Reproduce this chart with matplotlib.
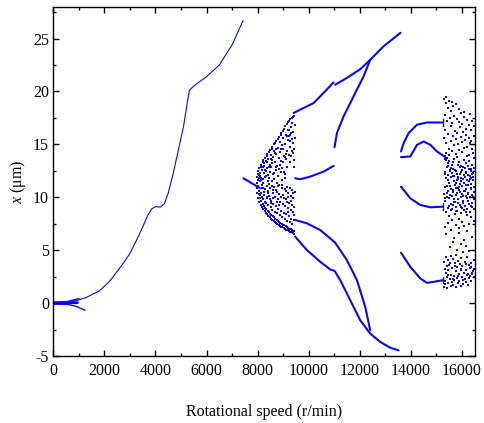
import numpy as np
import matplotlib
matplotlib.use('Agg')
from matplotlib import pyplot as plt
from matplotlib.ticker import MultipleLocator

# ---- branches: (speed r/min, x um) ----
main_branch = [(0, 0.0), (300, 0.02), (600, 0.06), (850, 0.2), (1050, 0.36),
               (1300, 0.55), (1500, 0.8), (1800, 1.15), (2000, 1.6), (2250, 2.2),
               (2500, 3.0), (2750, 3.8), (3000, 4.7), (3250, 5.9), (3500, 7.2),
               (3700, 8.3), (3850, 8.9), (4000, 9.12), (4200, 9.08), (4350, 9.4),
               (4500, 10.4), (4700, 12.3), (4900, 14.5), (5100, 16.7), (5250, 19.0),
               (5330, 20.1), (5450, 20.4), (5600, 20.7), (6000, 21.4), (6500, 22.5),
               (7000, 24.4), (7430, 26.7)]
start_band_up = [(0, 0.1), (300, 0.12), (550, 0.15), (800, 0.3), (1000, 0.42)]
start_band_lo = [(0, -0.08), (350, -0.1), (600, -0.12), (900, -0.3), (1240, -0.66)]
start_band_mid = [(0, 0.0), (400, 0.02), (650, 0.05), (950, 0.05)]

thick_branches = [
    [(7445, 11.8), (7771, 11.33), (8098, 10.86)],
    [(9406, 17.96), (9666, 18.28), (10188, 18.9), (10580, 19.86), (10972, 20.86)],
    [(9470, 11.8), (9666, 11.71), (10057, 11.96), (10580, 12.43), (10972, 12.97)],
    [(9470, 7.86), (9928, 7.55), (10450, 6.91), (10842, 6.12), (11036, 5.71),
     (11495, 4.07), (11887, 2.18), (12212, -0.35), (12408, -2.56)],
    [(9470, 6.28), (9928, 5.02), (10450, 3.91), (10842, 3.19), (11010, 3.06),
     (11233, 2.18), (11625, 0.28), (12016, -1.61), (12408, -2.87),
     (12800, -3.66), (13192, -4.2), (13517, -4.45)],
    [(11036, 20.64), (11495, 21.28), (12016, 22.1), (12410, 23.0), (12930, 24.27),
     (13590, 25.54)],
    [(11010, 14.74), (11103, 16.07), (11364, 17.64), (11755, 19.54),
     (12147, 21.43), (12408, 23.0)],
    [(13611, 14.33), (13714, 15.12), (13910, 16.07), (14237, 16.86),
     (14629, 17.07), (15217, 17.07)],
    [(13611, 13.8), (13975, 13.86), (14237, 14.96), (14499, 15.28),
     (14760, 14.96), (15021, 14.33), (15347, 13.8)],
    [(13611, 11.01), (13975, 9.91), (14367, 9.28), (14760, 9.06), (15256, 9.12)],
    [(13611, 4.77), (13975, 3.44), (14367, 2.34), (14629, 1.92), (14890, 2.02),
     (15256, 2.18)],
]
branch_ends = [(15240, 17.07), (15256, 9.12), (15256, 2.18)]

# ---- chaotic clouds: (speed, x) ----
cloud_left = [
    (7975, 10.4), (7992, 10.9), (7968, 11.4), (7985, 11.9), (7999, 12.2),
    (8021, 9.9), (8043, 10.3), (8012, 11.1), (8037, 11.8), (8026, 12.5),
    (8071, 9.6), (8094, 9.9), (8063, 10.6), (8088, 11.5), (8102, 12.3), (8069, 12.8),
    (8118, 9.3), (8141, 9.7), (8125, 10.4), (8152, 11.2), (8109, 12.0), (8137, 12.9),
    (8148, 13.1), (8172, 9.1), (8195, 9.4), (8161, 10.0), (8186, 10.9), (8203, 11.7),
    (8166, 12.6), (8191, 13.3), (8219, 8.9), (8244, 9.2), (8226, 9.8), (8208, 11.4),
    (8251, 12.3), (8233, 13.0), (8215, 13.5), (8271, 8.7), (8293, 9.0), (8262, 10.2),
    (8285, 10.8), (8301, 11.9), (8268, 13.2), (8290, 13.7), (8322, 8.5), (8341, 8.9),
    (8315, 9.5), (8352, 11.1), (8309, 12.5), (8336, 13.4), (8347, 13.9), (8371, 8.4),
    (8393, 8.7), (8362, 9.9), (8388, 10.6), (8401, 12.1), (8366, 12.8), (8384, 14.1),
    (8424, 8.2), (8447, 8.6), (8413, 9.3), (8438, 11.3), (8452, 11.8), (8419, 13.6),
    (8433, 14.3), (8472, 8.1), (8491, 8.4), (8463, 10.1), (8486, 10.9), (8499, 12.4),
    (8468, 13.1), (8481, 14.5), (8521, 8.0), (8542, 8.3), (8514, 9.1), (8537, 9.7),
    (8551, 11.5), (8509, 12.9), (8533, 14.0), (8546, 14.6), (8573, 7.9), (8594, 8.2),
    (8561, 8.8), (8586, 10.4), (8602, 12.2), (8567, 13.5), (8579, 14.8), (8622, 7.8),
    (8641, 8.1), (8614, 9.4), (8637, 11.0), (8652, 11.7), (8609, 13.8), (8634, 14.4),
    (8645, 15.0), (8671, 7.7), (8693, 8.0), (8662, 8.6), (8688, 10.0), (8701, 12.6),
    (8667, 13.3), (8684, 15.1), (8723, 7.6), (8744, 7.9), (8712, 9.2), (8738, 10.7),
    (8751, 11.4), (8718, 14.1), (8735, 15.3), (8772, 7.5), (8793, 7.8), (8764, 8.5),
    (8786, 9.8), (8801, 12.0), (8759, 13.0), (8781, 14.7), (8796, 15.5), (8824, 7.4),
    (8842, 7.7), (8811, 8.9), (8836, 10.3), (8851, 11.2), (8817, 13.7), (8833, 15.7),
    (8871, 7.3), (8892, 7.6), (8863, 8.3), (8887, 9.6), (8903, 12.4), (8866, 14.3),
    (8879, 15.2), (8897, 15.9), (8922, 7.2), (8943, 7.5), (8912, 8.7), (8938, 10.9),
    (8951, 11.6), (8917, 13.4), (8934, 16.1), (8973, 7.2), (8991, 7.4), (8962, 8.1),
    (8986, 9.4), (9001, 10.2), (8967, 12.8), (8979, 14.6), (8995, 15.6), (8984, 16.3),
    (9022, 7.1), (9041, 7.4), (9013, 8.5), (9037, 9.9), (9052, 11.8), (9018, 13.9),
    (9034, 16.5), (9073, 7.0), (9092, 7.3), (9062, 8.0), (9087, 9.2), (9101, 10.6),
    (9068, 12.2), (9081, 15.0), (9096, 15.9), (9077, 16.7), (9121, 6.9), (9143, 7.2),
    (9114, 8.4), (9136, 9.6), (9152, 11.0), (9117, 13.6), (9133, 14.4), (9146, 16.9),
    (9172, 6.9), (9191, 7.1), (9163, 7.8), (9186, 9.0), (9201, 10.4), (9167, 12.9),
    (9179, 15.4), (9195, 16.4), (9184, 17.1), (9222, 6.8), (9243, 7.0), (9213, 8.2),
    (9237, 9.5), (9251, 10.9), (9218, 14.0), (9234, 15.8), (9246, 17.2), (9271, 6.7),
    (9292, 7.0), (9262, 7.7), (9287, 8.8), (9301, 10.1), (9267, 13.3), (9281, 14.8),
    (9296, 16.6), (9276, 17.4), (9322, 6.7), (9341, 6.9), (9313, 8.0), (9337, 9.3),
    (9352, 10.7), (9318, 13.9), (9334, 15.5), (9346, 17.0), (9327, 17.5), (9372, 6.6),
    (9393, 6.8), (9364, 7.5), (9386, 8.6), (9401, 9.9), (9367, 14.2), (9381, 15.1),
    (9396, 16.2), (9377, 17.6), (9422, 6.5), (9441, 6.8), (9414, 7.9), (9437, 9.1),
    (9452, 10.5), (9418, 13.5), (9434, 14.6), (9446, 16.8), (9427, 17.7),
    (8010, 11.6), (8060, 12.1), (8105, 10.2), (8150, 11.6), (8205, 12.9), (8250, 10.5),
    (8305, 12.6), (8355, 10.0), (8400, 11.5), (8455, 12.9), (8505, 9.5), (8555, 13.2),
    (8600, 9.9), (8655, 12.3), (8705, 14.6), (8750, 9.6), (8805, 11.1), (8855, 12.7),
    (8905, 10.0), (8955, 14.9), (9005, 13.3), (9055, 10.8), (9105, 14.1), (9155, 15.8),
    (9205, 8.6), (9255, 15.3), (9305, 16.1), (9355, 14.4), (9405, 12.9), (9455, 15.6),
    (8120, 11.8), (8220, 10.9), (8320, 12.0), (8420, 10.4), (8520, 13.6), (8620, 10.7),
    (8720, 12.9), (8820, 9.3), (8920, 14.6), (9020, 12.4), (9120, 9.8), (9220, 16.4),
    (9320, 9.7), (9420, 8.3), (8270, 9.6), (8370, 13.3), (8470, 9.8), (8570, 11.1),
    (8670, 14.2), (8770, 10.5), (8870, 13.1), (8970, 11.2), (9070, 13.8), (9170, 10.0),
    (9270, 15.9), (9370, 10.4),
]
cloud_right = [
    (15305, 19.3), (15322, 17.8), (15296, 15.6), (15314, 13.9), (15327, 12.4),
    (15301, 10.3), (15318, 7.2), (15308, 3.9), (15325, 2.1), (15299, 1.5),
    (15338, 13.6), (15347, 12.2), (15332, 11.0), (15352, 9.9), (15341, 3.2),
    (15361, 18.9), (15344, 16.4), (15372, 14.2), (15356, 13.5), (15367, 11.8),
    (15349, 9.7), (15375, 8.6), (15358, 4.4), (15369, 2.9), (15346, 1.8),
    (15392, 19.5), (15411, 17.2), (15386, 15.1), (15404, 13.7), (15419, 12.9),
    (15395, 11.1), (15408, 10.0), (15388, 6.5), (15414, 3.5), (15398, 2.5), (15421, 1.4),
    (15436, 13.0), (15447, 11.6), (15431, 10.4), (15452, 9.0), (15440, 2.7),
    (15461, 18.4), (15454, 16.0), (15472, 14.6), (15458, 13.2), (15467, 12.1),
    (15449, 10.6), (15476, 9.2), (15463, 7.6), (15457, 4.1), (15470, 3.1), (15452, 1.9),
    (15493, 19.1), (15511, 17.5), (15487, 14.0), (15505, 13.4), (15518, 12.6),
    (15496, 11.4), (15509, 9.9), (15490, 8.2), (15514, 5.3), (15499, 3.6), (15520, 2.3),
    (15538, 12.5), (15546, 11.1), (15532, 10.2), (15551, 8.8), (15541, 3.8),
    (15562, 18.2), (15555, 16.7), (15571, 15.3), (15557, 12.8), (15568, 11.9),
    (15549, 10.8), (15575, 9.4), (15563, 6.9), (15556, 4.5), (15572, 2.7), (15553, 1.6),
    (15594, 19.0), (15612, 17.0), (15588, 14.4), (15606, 13.1), (15619, 12.3),
    (15597, 10.1), (15609, 8.9), (15591, 7.9), (15615, 3.3), (15601, 2.0),
    (15637, 13.3), (15648, 12.0), (15633, 10.7), (15652, 9.3), (15641, 2.3),
    (15661, 18.6), (15656, 15.8), (15673, 14.9), (15659, 12.7), (15668, 11.5),
    (15651, 10.5), (15676, 9.6), (15664, 5.8), (15657, 4.2), (15671, 2.6), (15654, 1.7),
    (15693, 17.7), (15712, 16.3), (15688, 13.6), (15705, 12.0), (15719, 11.2),
    (15696, 9.8), (15709, 8.4), (15691, 6.2), (15715, 3.8), (15701, 2.2),
    (15737, 12.6), (15746, 11.4), (15732, 9.6), (15751, 8.7), (15741, 3.5),
    (15762, 18.8), (15755, 15.5), (15772, 14.1), (15758, 12.5), (15767, 10.9),
    (15750, 10.2), (15776, 9.1), (15764, 7.4), (15757, 4.6), (15771, 3.0), (15753, 1.5),
    (15794, 17.4), (15811, 16.1), (15787, 13.8), (15806, 12.2), (15818, 11.6),
    (15796, 10.4), (15809, 8.7), (15791, 5.0), (15814, 3.4), (15800, 2.4),
    (15836, 13.1), (15847, 11.9), (15831, 10.9), (15852, 9.8), (15840, 2.6),
    (15862, 18.3), (15855, 15.0), (15873, 13.3), (15859, 11.7), (15868, 11.0),
    (15851, 9.5), (15876, 8.0), (15864, 6.6), (15857, 4.0), (15871, 2.8), (15854, 1.9),
    (15893, 17.1), (15912, 16.6), (15887, 14.5), (15905, 12.9), (15919, 11.3),
    (15896, 10.7), (15909, 9.3), (15891, 7.1), (15915, 3.7), (15901, 2.1),
    (15937, 12.2), (15946, 11.5), (15932, 10.5), (15951, 9.1), (15941, 3.1),
    (15962, 18.0), (15955, 15.7), (15972, 13.0), (15958, 12.4), (15967, 11.8),
    (15950, 10.0), (15976, 8.5), (15964, 5.6), (15957, 4.3), (15971, 3.2), (15953, 1.6),
    (15994, 16.9), (16011, 15.2), (15988, 14.3), (16006, 12.6), (16018, 11.1),
    (15996, 10.3), (16009, 9.0), (15991, 7.7), (16014, 3.5), (16000, 2.5),
    (16037, 12.9), (16046, 11.7), (16031, 10.1), (16052, 9.5), (16040, 2.2),
    (16062, 17.6), (16055, 16.2), (16073, 13.5), (16059, 12.1), (16068, 11.4),
    (16051, 9.7), (16076, 8.8), (16064, 6.0), (16057, 4.8), (16071, 2.9), (16054, 1.8),
    (16093, 18.1), (16112, 15.4), (16087, 14.7), (16105, 12.8), (16119, 11.9),
    (16096, 10.6), (16109, 9.2), (16091, 7.3), (16115, 3.9), (16101, 2.3),
    (16137, 12.4), (16146, 11.2), (16132, 10.6), (16151, 8.6), (16141, 3.7),
    (16162, 16.5), (16155, 15.9), (16173, 13.2), (16159, 12.3), (16168, 10.8),
    (16151, 10.1), (16176, 8.3), (16164, 5.4), (16157, 3.1), (16171, 2.0),
    (16194, 17.3), (16211, 14.8), (16188, 13.9), (16206, 11.6), (16218, 11.2),
    (16196, 9.9), (16209, 8.9), (16191, 6.8), (16214, 4.4), (16200, 2.7), (16222, 1.7),
    (16237, 13.0), (16246, 12.1), (16232, 10.3), (16251, 9.7), (16240, 2.8),
    (16262, 16.8), (16255, 15.6), (16273, 14.0), (16259, 12.7), (16268, 11.5),
    (16251, 10.4), (16276, 9.4), (16264, 7.5), (16257, 3.6), (16271, 2.4),
    (16294, 17.9), (16311, 15.1), (16288, 13.4), (16306, 12.0), (16318, 11.7),
    (16296, 10.0), (16309, 8.6), (16291, 4.9), (16314, 3.3), (16300, 2.6),
    (16337, 12.7), (16346, 11.8), (16332, 10.8), (16351, 9.2), (16340, 3.4),
    (16362, 16.4), (16355, 15.3), (16373, 14.6), (16359, 12.5), (16368, 11.3),
    (16351, 10.9), (16376, 9.5), (16364, 8.1), (16357, 3.8), (16371, 2.9), (16354, 2.1),
    (16394, 17.2), (16411, 14.2), (16388, 13.1), (16406, 12.2), (16418, 11.9),
    (16396, 10.2), (16409, 9.1), (16391, 6.3), (16414, 3.0), (16400, 2.8),
    (16437, 12.3), (16446, 11.6), (16432, 10.0), (16451, 8.9), (16440, 3.0),
    (16462, 16.7), (16455, 15.8), (16473, 13.7), (16459, 12.8), (16468, 11.0),
    (16451, 10.5), (16476, 9.8), (16464, 7.8), (16457, 4.1), (16471, 3.2), (16454, 2.5),
]

color = '#0a0ae6'
plt.rcParams['font.family'] = 'Liberation Serif'
plt.rcParams['axes.unicode_minus'] = False
plt.rcParams['mathtext.fontset'] = 'custom'
plt.rcParams['mathtext.it'] = 'Liberation Serif:italic'
plt.rcParams['mathtext.rm'] = 'Liberation Serif'

fig = plt.figure(figsize=(4.84, 4.23), dpi=100)
ax = fig.add_axes([0.110, 0.158, 0.871, 0.826])


def draw(pts, lw):
    p = np.array(pts)
    ax.plot(p[:, 0], p[:, 1], '-', color=color, lw=lw, solid_capstyle='round')


draw(main_branch, 0.8)
draw(start_band_up, 1.2)
draw(start_band_lo, 1.0)
draw(start_band_mid, 2.0)
for br in thick_branches:
    draw(br, 1.5)
for s, v in branch_ends:
    ax.plot([s, s], [v - 0.3, v + 0.3], color=color, lw=1.0)


def scatter_cloud(cloud):
    p = np.array(cloud)
    ax.scatter(p[:, 0], p[:, 1], s=2.0, color=color, linewidths=0, marker='s')


scatter_cloud(cloud_left)
scatter_cloud(cloud_right)

ax.set_xlim(0, 16500)
ax.set_ylim(-5, 28)
ax.xaxis.set_major_locator(MultipleLocator(2000))
ax.xaxis.set_minor_locator(MultipleLocator(1000))
ax.yaxis.set_major_locator(MultipleLocator(5))
ax.yaxis.set_minor_locator(MultipleLocator(2.5))
ax.tick_params(which='both', direction='in', top=True, right=True,
               labelsize=11.5, width=1.0)
ax.tick_params(which='major', length=4.5)
ax.tick_params(which='minor', length=2.5)
ax.tick_params(axis='x', pad=5)
ax.tick_params(axis='y', pad=3)
for sp in ax.spines.values():
    sp.set_linewidth(1.0)

ax.set_xlabel('Rotational speed (r/min)', fontsize=11.5, labelpad=18)
ax.set_ylabel(r'$x$ ($\mathrm{\mu}$m)', fontsize=11.5, labelpad=4)

fig.savefig('out.png', dpi=100)
